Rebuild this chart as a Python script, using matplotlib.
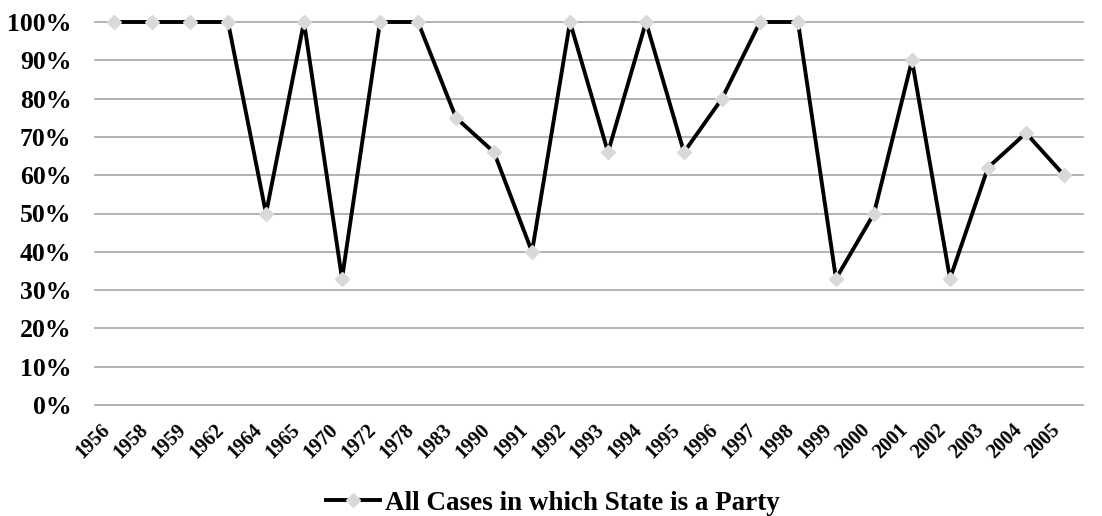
import matplotlib.pyplot as plt
import numpy as np

years = ['1956', '1958', '1959', '1962', '1964', '1965', '1970', '1972', '1978',
         '1983', '1990', '1991', '1992', '1993', '1994', '1995', '1996', '1997',
         '1998', '1999', '2000', '2001', '2002', '2003', '2004', '2005']
share = [100, 100, 100, 100, 50, 100, 33, 100, 100, 75, 66, 40, 100, 66, 100,
         66, 80, 100, 100, 33, 50, 90, 33, 62, 71, 60]
yticks = [0, 10, 20, 30, 40, 50, 60, 70, 80, 90, 100]
series_name = 'All Cases in which State is a Party'

plt.rcParams['font.family'] = ['Liberation Serif', 'DejaVu Serif']
plt.rcParams['font.weight'] = 'bold'

fig = plt.figure(figsize=(11.02, 5.16), dpi=100)
ax = fig.add_axes([95 / 1102, 1 - 405 / 516, (1083 - 95) / 1102, (405 - 22) / 516])

x = np.arange(len(years))
ax.plot(x, share, color='black', lw=2.8, marker='D', ms=7.5,
        mfc='#d9d9d9', mec='#d9d9d9', label=series_name, zorder=3, clip_on=False)

ax.set_xlim(-0.5, len(years) - 0.5)
ax.set_ylim(0, 100)
ax.set_yticks(yticks)
ax.set_yticklabels([f'{v}%' for v in yticks], fontsize=18.5, fontweight='bold')
ax.set_xticks(x)
ax.set_xticklabels(years, rotation=45, ha='right', va='bottom', rotation_mode='anchor',
                   fontsize=14.5, fontweight='bold')
ax.tick_params(axis='both', length=0)
ax.tick_params(axis='y', pad=17)
ax.tick_params(axis='x', pad=21)
ax.yaxis.grid(True, color='#a6a6a6', lw=1.2)
for gl in ax.get_ygridlines():
    gl.set_clip_on(False)
ax.set_axisbelow(True)
for s in ax.spines.values():
    s.set_visible(False)

fig.legend(loc='center', bbox_to_anchor=(553 / 1102, 1 - 503 / 516), frameon=False,
           prop={'size': 19.5, 'weight': 'bold'}, handlelength=2.0, handletextpad=0.2)

fig.savefig('out.png', dpi=100)
